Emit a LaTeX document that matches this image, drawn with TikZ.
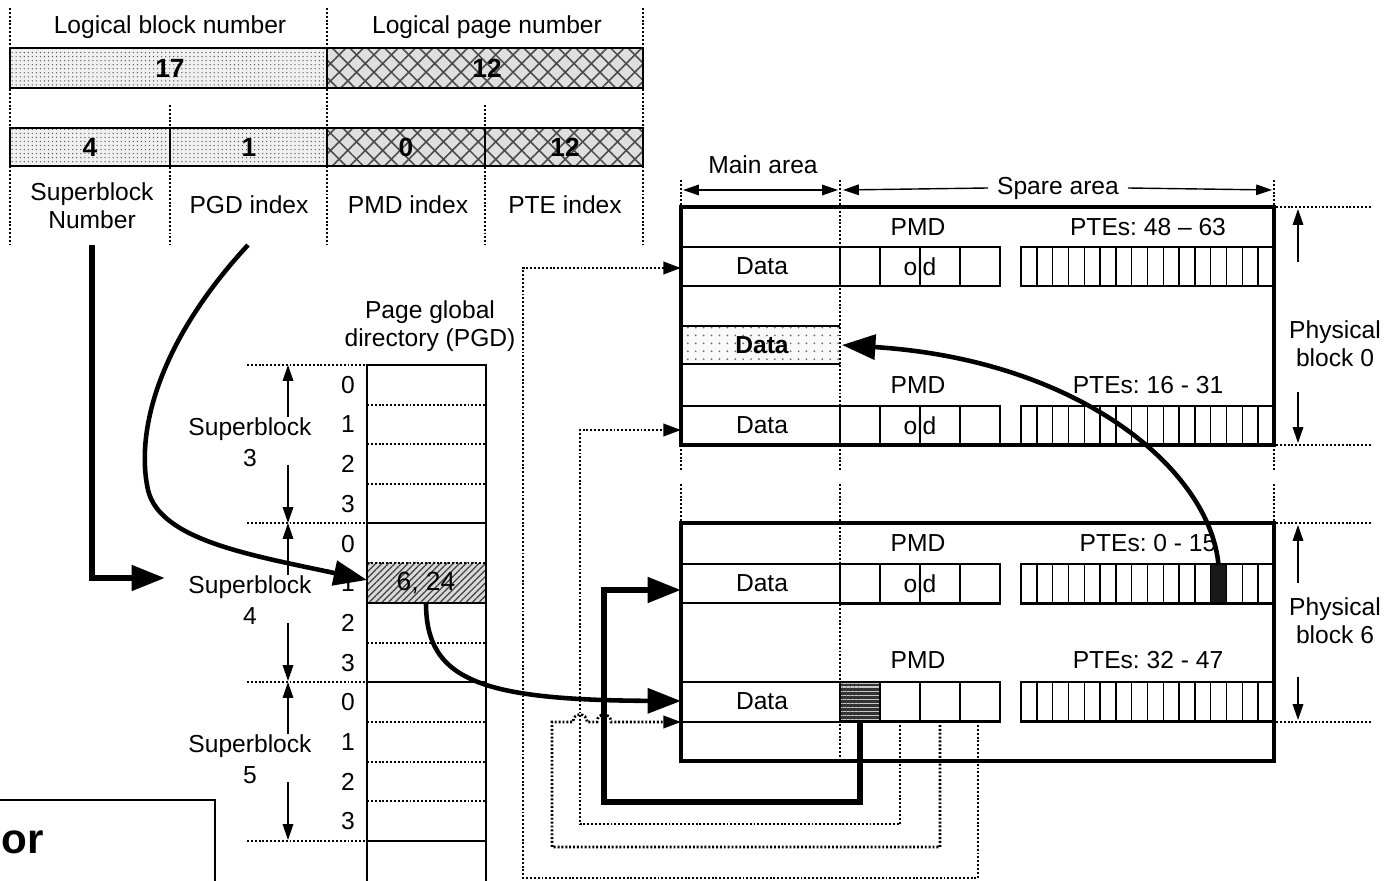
\documentclass[tikz,border=0pt]{standalone}
\usepackage{fontspec}
\setmainfont{Liberation Sans}
\usepackage{tikz}
\usetikzlibrary{arrows.meta,positioning,calc,patterns,patterns.meta}
\frenchspacing

\begin{document}
\begin{tikzpicture}[x=0.02cm,y=-0.02cm,
    font=\fontsize{14}{16}\selectfont,
    >={Triangle[length=9pt,width=6pt]},
    thinline/.style={line width=0.8pt},
    boxline/.style={line width=1.6pt},
    blockline/.style={line width=2pt},
    dotline/.style={line width=1.5pt,dash pattern=on 1.1pt off 1.1pt},
    lbl/.style={align=center,inner sep=1pt},
    num/.style={font=\fontsize{15}{17}\selectfont\bfseries,inner sep=1pt},
    sidearrow/.style={thinline,->},
    bigarrow/.style={line width=2.6pt,-{Triangle[length=19pt,width=14pt]}},
    pathptr/.style={line width=3.4pt,-{Triangle[length=19pt,width=14pt]}},
    dotarrow/.style={dotline,-{Triangle[length=10pt,width=7pt]}},
    dotfill/.style={preaction={fill=gray!12},pattern={Dots[distance=2.3pt,radius=0.4pt]},pattern color=black!65},
    xhatch/.style={preaction={fill=gray!25},pattern={Hatch[angle=45,distance=7pt,line width=0.9pt]},pattern color=black!70},
    datadots/.style={preaction={fill=gray!5},pattern={Dots[distance=4.5pt,radius=0.55pt]},pattern color=black!60},
    pgdhatch/.style={preaction={fill=gray!30},pattern={Lines[angle=45,distance=2.6pt,line width=0.7pt]},pattern color=black!75},
    pmdhatch/.style={preaction={fill=black!80},pattern={Lines[angle=0,distance=2.3pt,line width=0.6pt]},pattern color=gray!45}]

\useasboundingbox (0,0) rectangle (1393,881);

% 逻辑地址
\foreach \x in {10,327,643} \draw[dotline] (\x,8) -- (\x,245);
\foreach \x in {170,485} \draw[dotline] (\x,105) -- (\x,245);
\node[lbl] (lbn) at (170,27) {Logical block number};
\node[lbl] (lpn) at (487,27) {Logical page number};
\fill[dotfill] (10,48) rectangle (327,88);
\fill[xhatch] (327,48) rectangle (643,88);
\draw[thinline] (10,48) rectangle (643,88) (327,48) -- (327,88);
\node[num] (blk) at (170,68) {17};
\node[num] (pg) at (487,68) {12};

\fill[dotfill] (10,128) rectangle (327,166);
\fill[xhatch] (327,128) rectangle (643,166);
\draw[thinline] (10,128) rectangle (643,166);
\foreach \x in {170,327,485} \draw[thinline] (\x,128) -- (\x,166);
\node[num] (sbn) at (90,147) {4};
\node[num] (pgdi) at (249,147) {1};
\node[num] (pmdi) at (406,147) {0};
\node[num] (ptei) at (565,147) {12};
\node[lbl] (sbtxt) at (92,206) {Superblock\\Number};
\node[lbl] (pgdtxt) at (249,205) {PGD index};
\node[lbl] (pmdtxt) at (408,205) {PMD index};
\node[lbl] (ptetxt) at (565,205) {PTE index};

% 页全局目录
\node[lbl] (pgdtitle) at (430,326) {Page global\\directory (PGD)};
\fill[pgdhatch] (367,563) rectangle (486,603);
\draw[thinline] (367,881) -- (367,365) -- (486,365) -- (486,881);
\foreach \y in {523,682,841} \draw[thinline] (367,\y) -- (486,\y);
\foreach \y in {405,444,484,563,643,722,762,801} \draw[dotline] (367,\y) -- (486,\y);
\draw[thinline] (367,603) -- (486,603);
\node[font=\fontsize{15}{17}\selectfont] (pgd1) at (426,583) {6, 24};
\foreach \k in {0,...,11} {
    \pgfmathtruncatemacro\r{mod(\k,4)}
    \node (r\k) at (348,384.8+39.7*\k) {\r};
}
\foreach \t/\n in {365/3,523/4,682/5} {
    \draw[dotline] (247,\t) -- (405,\t);
    \node[lbl,font=\fontsize{14}{17.5}\selectfont] (sb\n) at (250,\t+77) {Superblock\\\n};
    \draw[sidearrow] (288,\t+52) -- (288,\t);
    \draw[sidearrow] (288,\t+100) -- (288,\t+158);
}
\draw[dotline] (247,841) -- (405,841);

% 主区 / 备用区
\node (mainarea) at (763,165) {Main area};
\node[inner sep=5pt] (sparearea) at (1058,188) {Spare area};
\draw[thinline,<->] (683,190) -- (838,190);
\draw[thinline,<-] (843,190) -- (sparearea.west);
\draw[thinline,->] (sparearea.east) -- (1272,190);
\foreach \x in {681,840,1274} {
    \draw[dotline] (\x,180) -- (\x,207);
    \draw[dotline] (\x,445) -- (\x,470);
    \draw[dotline] (\x,484) -- (\x,523);
}

% 物理块 0
\fill[datadots] (681,326) rectangle (840,364);
\draw[dotline] (840,207) -- (840,445);
\foreach \y in {247,286,326,364,406} \draw[thinline] (681,\y) -- (840,\y);
\foreach \y in {247,406} {
    \foreach \i in {1,...,15} \draw[thinline] (1021+15.8*\i,\y) -- ++(0,39);
    \draw[thinline] (880,\y) -- ++(0,39) (920,\y) -- ++(0,39) (960,\y) -- ++(0,39);
    \draw[boxline] (840,\y) rectangle ++(160,39);
    \draw[boxline] (1274,\y) -- (1021,\y) -- ++(0,39) -- (1274,\y+39);
    \node[inner sep=0pt] (old0\y) at (920,\y+19.5) {old};
}
\draw[blockline] (681,207) rectangle (1274,445);
\node (pmd0a) at (918,227) {PMD};
\node (pte0a) at (1148,227) {PTEs: 48 -- 63};
\node (pmd0b) at (918,385) {PMD};
\node (pte0b) at (1148,385) {PTEs: 16 - 31};
\node (b0d1) at (762,266) {Data};
\node[font=\fontsize{14}{16}\selectfont\bfseries] (b0d2) at (762,345) {Data};
\node (b0d3) at (762,425) {Data};

% 物理块 6
\fill[pmdhatch] (840,682) rectangle (880,721.5);
\fill[black!90] (1210.6,564) rectangle (1226.4,603);
\draw[dotline] (840,523) -- (840,761);
\foreach \y in {564,603,682,722} \draw[thinline] (681,\y) -- (840,\y);
\foreach \y in {564,682} {
    \foreach \i in {1,...,15} \draw[thinline] (1021+15.8*\i,\y) -- ++(0,39.5);
    \draw[thinline] (880,\y) -- ++(0,39.5) (920,\y) -- ++(0,39.5) (960,\y) -- ++(0,39.5);
    \draw[boxline] (840,\y) rectangle ++(160,39.5);
    \draw[boxline] (1274,\y) -- (1021,\y) -- ++(0,39.5) -- (1274,\y+39.5);
}
\node[inner sep=0pt] (old6) at (920,583.5) {old};
\draw[blockline] (681,523) rectangle (1274,761);
\node (pmd6a) at (918,543) {PMD};
\node (pte6a) at (1148,543) {PTEs: 0 - 15};
\node (pmd6b) at (918,660) {PMD};
\node (pte6b) at (1148,660) {PTEs: 32 - 47};
\node (b6d1) at (762,583) {Data};
\node (b6d2) at (762,701) {Data};

% 物理块标注
\foreach \y in {207,445,523,722} \draw[dotline] (1276,\y) -- (1372,\y);
\draw[sidearrow] (1298,262) -- (1298,209);
\draw[sidearrow] (1298,392) -- (1298,443);
\node[lbl] (pb0) at (1335,344) {Physical\\block 0};
\draw[sidearrow] (1298,583) -- (1298,525);
\draw[sidearrow] (1298,677) -- (1298,720);
\node[lbl] (pb6) at (1335,621) {Physical\\block 6};

% 连接点
\coordinate (sbstart) at (92,245);
\coordinate (sbin) at (165,578);
\coordinate (pgdstart) at (248,245);
\coordinate (pgdin) at (367,580);
\coordinate (pgdout) at (426,603);
\coordinate (in0a) at (681,268);
\coordinate (in0b) at (681,430);
\coordinate (in6a) at (681,590);
\coordinate (in6b) at (681,701);
\coordinate (in6c) at (681,722);
\coordinate (spared) at (842,345);
\coordinate (pmdhead) at (860,722);
\coordinate (ptehead) at (1218.5,565);
\coordinate (p1) at (900,725);
\coordinate (p2) at (940,725);
\coordinate (p3) at (978,725);

% 指针
\draw[pathptr] (sbstart) |- (sbin);
\draw[bigarrow] (pgdstart) .. controls (160,340) and (135,430) .. (148,490)
    .. controls (160,540) and (250,555) .. (pgdin);
\draw[bigarrow] (pgdout) .. controls (426,680) and (480,700) .. (in6b);
\draw[pathptr] (pmdhead) -- (860,802) -| (604,590) -- (in6a);
\draw[bigarrow] (ptehead) .. controls (1210,470) and (1080,360) .. (spared);
\draw[dotarrow] (p3) -- (978,878) -| (523,268) -- (in0a);
\draw[dotarrow] (p1) -- (900,824) -| (580,430) -- (in0b);
\draw[dotarrow] (p2) -- (940,847) -| (552,722) -- (573,722)
    .. controls (573,712) and (587,712) .. (587,722) -- (597,722)
    .. controls (597,712) and (611,712) .. (611,722) -- (in6c);

% 左下角
\draw[thinline] (-5,800) -- (215,800) -- (215,890);
\node[anchor=base west,inner sep=0pt,font=\fontsize{24}{28}\selectfont\bfseries] (ortxt) at (1,853) {or};
\end{tikzpicture}
\end{document}
